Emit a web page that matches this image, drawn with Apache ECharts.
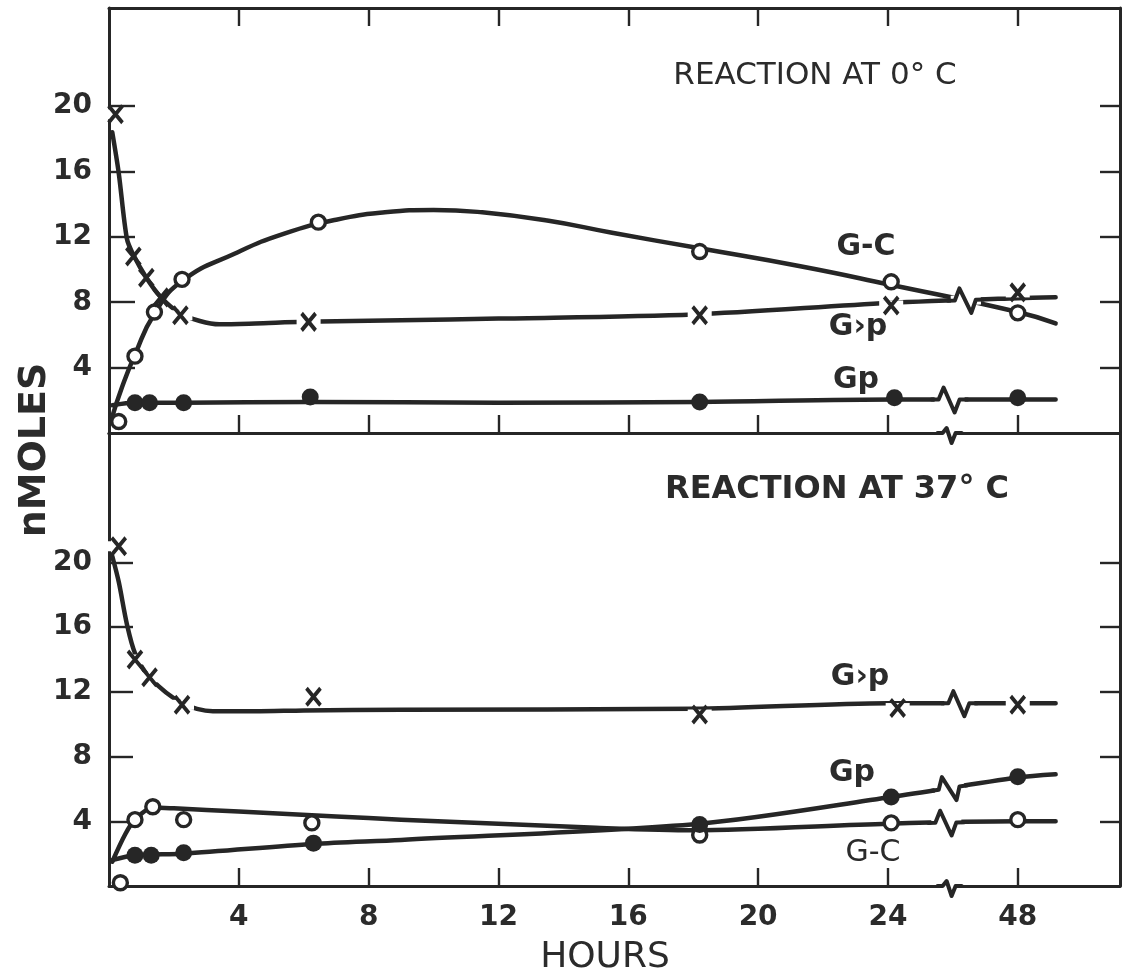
<!DOCTYPE html>
<html><head><meta charset="utf-8">
<script src="https://cdn.jsdelivr.net/npm/echarts@6/dist/echarts.min.js"></script>
<style>html,body{margin:0;padding:0;background:#fff}#c{width:1124px;height:975px}</style>
</head><body><div id="c"></div>
<script>
// ---------------- data ----------------
// x axis: hours; the axis is broken between 24 h and 48 h
const xTickPos    = [4, 8, 12, 16, 20, 24, 28];
const xTickLabels = ['4', '8', '12', '16', '20', '24', '48'];
const yTicks      = [4, 8, 12, 16, 20];

// ---- Reaction at 0 °C : measured points ----
const c0_Gcyc_t = [0.2, 0.75, 1.15, 1.6, 2.2, 6.15, 18.2, 24.1, 48];
const c0_Gcyc_v = [19.5, 10.8, 9.5, 8.3, 7.2, 6.8, 7.2, 7.8, 8.6];
const c0_GC_t   = [0.3, 0.8, 1.4, 2.25, 6.45, 18.2, 24.1, 48];
const c0_GC_v   = [0.7, 4.7, 7.4, 9.4, 12.9, 11.1, 9.25, 7.35];
const c0_Gp_t   = [0.8, 1.25, 2.3, 6.2, 18.2, 24.2, 48];
const c0_Gp_v   = [1.85, 1.85, 1.85, 2.2, 1.9, 2.15, 2.15];
// ---- Reaction at 0 °C : drawn curves ----
const c0_Gcyc_fit_t = [0.1, 0.3, 0.55, 0.75, 1.15, 1.6, 2.2, 2.8, 3.4, 4.5, 6.0, 9, 12, 18, 24, 48, 55];
const c0_Gcyc_fit_v = [18.4, 15.9, 11.9, 10.9, 9.5, 8.3, 7.3, 6.85, 6.65, 6.7, 6.8, 6.9, 7.0, 7.25, 7.95, 8.25, 8.3];
const c0_GC_fit_t   = [0.1, 0.4, 0.8, 1.4, 2.25, 3.9, 5.4, 7.0, 8.5, 10.0, 11.5, 13.5, 15.5, 18.2, 21.3, 24, 48, 55];
const c0_GC_fit_v   = [1.0, 2.8, 4.8, 7.3, 9.3, 11.0, 12.2, 13.05, 13.5, 13.65, 13.5, 13.0, 12.25, 11.3, 10.2, 9.1, 7.4, 6.7];
const c0_Gp_fit_t   = [0.1, 0.8, 2.3, 6.2, 12, 18.2, 24.2, 48, 55];
const c0_Gp_fit_v   = [1.7, 1.85, 1.85, 1.9, 1.85, 1.9, 2.05, 2.05, 2.05];

// ---- Reaction at 37 °C : measured points ----
const c37_Gcyc_t = [0.3, 0.8, 1.25, 2.25, 6.3, 18.2, 24.3, 48];
const c37_Gcyc_v = [21.0, 14.0, 12.9, 11.2, 11.7, 10.6, 11.0, 11.2];
const c37_GC_t   = [0.35, 0.8, 1.35, 2.3, 6.25, 18.2, 24.1, 48];
const c37_GC_v   = [0.2, 4.1, 4.9, 4.1, 3.9, 3.15, 3.9, 4.1];
const c37_Gp_t   = [0.8, 1.3, 2.3, 6.3, 18.2, 24.1, 48];
const c37_Gp_v   = [1.9, 1.9, 2.05, 2.65, 3.8, 5.5, 6.75];
// ---- Reaction at 37 °C : drawn curves ----
const c37_Gcyc_fit_t = [0.1, 0.3, 0.55, 0.8, 1.25, 2.25, 3.2, 4.5, 6.0, 9, 18, 24, 48, 55];
const c37_Gcyc_fit_v = [20.4, 18.8, 16.2, 14.4, 12.9, 11.3, 10.8, 10.8, 10.85, 10.9, 10.95, 11.3, 11.3, 11.3];
const c37_GC_fit_t   = [0.1, 0.5, 0.8, 1.35, 2.0, 4, 7, 9, 12, 15, 18, 24, 48, 55];
const c37_GC_fit_v   = [1.5, 3.2, 4.1, 4.85, 4.8, 4.6, 4.3, 4.1, 3.85, 3.6, 3.45, 3.85, 4.0, 4.0];
const c37_Gp_fit_t   = [0.1, 0.8, 2.3, 6.3, 9, 18.2, 24.1, 48, 55];
const c37_Gp_fit_v   = [1.6, 1.9, 2.0, 2.6, 2.85, 3.85, 5.5, 6.7, 6.9];

// ---------------- helpers / styles ----------------
const INK = '#262626';
const TXT = '#2b2b2b';
const FONT = '"DejaVu Sans", "Liberation Sans", sans-serif';
const XMAX = 31.15;
const BREAK_POS = 25.9;               // axis position of the scale break
function pos(h) { return h <= 24.5 ? h : 28 + (h - 48) / 6; }   // broken axis mapping
function pts(ts, vs) { return ts.map((t, i) => [pos(t), vs[i]]); }
function interp(p, x) {
  for (let i = 1; i < p.length; i++) {
    if (x <= p[i][0]) { const a = p[i - 1], b = p[i]; return a[1] + (b[1] - a[1]) * (x - a[0]) / (b[0] - a[0]); }
  }
  return p[p.length - 1][1];
}
function slope(p, x) { return (interp(p, x + 0.3) - interp(p, x - 0.3)) / 0.6; }

const fits = {
  c0_Gcyc: pts(c0_Gcyc_fit_t, c0_Gcyc_fit_v), c0_GC: pts(c0_GC_fit_t, c0_GC_fit_v), c0_Gp: pts(c0_Gp_fit_t, c0_Gp_fit_v),
  c37_Gcyc: pts(c37_Gcyc_fit_t, c37_Gcyc_fit_v), c37_GC: pts(c37_GC_fit_t, c37_GC_fit_v), c37_Gp: pts(c37_Gp_fit_t, c37_Gp_fit_v)
};

function lineSeries(g, data, sm) {
  return { type: 'line', xAxisIndex: g * 2, yAxisIndex: g * 2, data: data, smooth: sm,
    symbol: 'none', showSymbol: false, lineStyle: { color: INK, width: 4.5, cap: 'round', join: 'round', opacity: 1 },
    z: 2, silent: true, animation: false };
}
const X_PATH = 'path://M0,0L10,13M10,0L0,13';
function crossSeries(g, data) {
  return { type: 'scatter', xAxisIndex: g * 2, yAxisIndex: g * 2, data: data, symbol: X_PATH, symbolSize: [14, 17],
    itemStyle: { color: 'rgba(0,0,0,0)', borderColor: INK, borderWidth: 4, opacity: 1 }, z: 5, silent: true, animation: false };
}
function haloSeries(g, data) {
  return { type: 'scatter', xAxisIndex: g * 2, yAxisIndex: g * 2, data: data, symbol: 'rect', symbolSize: [24, 10],
    itemStyle: { color: '#ffffff', opacity: 1 }, z: 3, silent: true, animation: false };
}
function openSeries(g, data) {
  return { type: 'scatter', xAxisIndex: g * 2, yAxisIndex: g * 2, data: data, symbol: 'circle', symbolSize: 14,
    itemStyle: { color: '#ffffff', borderColor: INK, borderWidth: 3.4, opacity: 1 }, z: 4, silent: true, animation: false };
}
function filledSeries(g, data) {
  return { type: 'scatter', xAxisIndex: g * 2, yAxisIndex: g * 2, data: data, symbol: 'circle', symbolSize: 17,
    itemStyle: { color: INK, opacity: 1 }, z: 4, silent: true, animation: false };
}
const LINE_ZIG = [[-18, 0], [-11, 0], [-6, -12], [5, 13], [10, 0], [18, 0]];
const AXIS_ZIG = [[-12, 0], [-7, 0], [-3, -5], [2, 10], [6, 0], [12, 0]];
function zigSeries(g, items, shape, halfW) {
  return { type: 'custom', xAxisIndex: g * 2, yAxisIndex: g * 2, data: items, z: 7, silent: true, animation: false, clip: false,
    renderItem: function (params, api) {
      const x = api.value(0), y = api.value(1), s = api.value(2);
      const c = api.coord([x, y]);
      const a = api.coord([x - 0.5, y - 0.5 * s]), b = api.coord([x + 0.5, y + 0.5 * s]);
      const rot = -Math.atan2(b[1] - a[1], b[0] - a[0]);
      return { type: 'group', x: c[0], y: c[1], rotation: rot, children: [
        { type: 'rect', shape: { x: -halfW, y: -5, width: 2 * halfW, height: 10 }, style: { fill: '#ffffff' } },
        { type: 'polyline', shape: { points: shape }, style: { stroke: INK, lineWidth: 4, fill: null, lineJoin: 'round', lineCap: 'round' } }
      ] };
    } };
}
function zigAt(fit, x) { return [x, interp(fit, x), slope(fit, x)]; }

const labelFmt = v => { const i = xTickPos.indexOf(v); return i >= 0 ? xTickLabels[i] : ''; };
function xAxisCfg(g, position, showLabels, showTicks) {
  return { type: 'value', gridIndex: g, position: position, min: 0, max: XMAX,
    axisLine: { show: true, onZero: false, lineStyle: { color: INK, width: 3 } },
    axisTick: { show: showTicks, inside: true, length: 18, customValues: xTickPos, lineStyle: { color: INK, width: 2.4 } },
    axisLabel: { show: showLabels, customValues: xTickPos, formatter: labelFmt, color: TXT, fontSize: 28, fontWeight: 'bold', fontFamily: FONT, margin: 18 },
    splitLine: { show: false } };
}
function yAxisCfg(g, position, max, showLabels, tickLen) {
  return { type: 'value', gridIndex: g, position: position, min: 0, max: max,
    axisLine: { show: true, onZero: false, lineStyle: { color: INK, width: 3 } },
    axisTick: { show: true, inside: true, length: tickLen, customValues: yTicks, lineStyle: { color: INK, width: 2.4 } },
    axisLabel: { show: showLabels, customValues: yTicks, color: TXT, fontSize: 28, fontWeight: 'bold', fontFamily: FONT, margin: 17 },
    splitLine: { show: false } };
}
function txt(text, x, y, size, weight, rotation) {
  return { type: 'text', x: x, y: y, rotation: rotation || 0, z: 10, silent: true,
    style: { text: text, fill: TXT, fontSize: size, fontWeight: weight || 'normal', fontFamily: FONT, align: 'center', verticalAlign: 'middle' } };
}

const chart = echarts.init(document.getElementById('c'), null, { renderer: 'canvas', width: 1124, height: 975 });

const haloFilter0 = pts(c0_Gcyc_t, c0_Gcyc_v).filter((p, i) => c0_Gcyc_t[i] >= 2 || i === 0);

chart.setOption({
  backgroundColor: '#ffffff',
  animation: false,
  grid: [
    { left: 109, top: 8, width: 1011, height: 425 },
    { left: 109, top: 433, width: 1011, height: 453 }
  ],
  xAxis: [
    xAxisCfg(0, 'bottom', false, true),
    xAxisCfg(0, 'top', false, true),
    xAxisCfg(1, 'bottom', true, true),
    xAxisCfg(1, 'top', false, false)
  ],
  yAxis: [
    yAxisCfg(0, 'left', 26, true, 26),
    yAxisCfg(0, 'right', 26, false, 20),
    yAxisCfg(1, 'left', 28, true, 24),
    yAxisCfg(1, 'right', 28, false, 20)
  ],
  series: [
    // 0 °C
    lineSeries(0, fits.c0_Gcyc, 0.3), lineSeries(0, fits.c0_GC, 0.5), lineSeries(0, fits.c0_Gp, 0.3),
    haloSeries(0, haloFilter0),
    crossSeries(0, pts(c0_Gcyc_t, c0_Gcyc_v)),
    openSeries(0, pts(c0_GC_t, c0_GC_v)),
    filledSeries(0, pts(c0_Gp_t, c0_Gp_v)),
    zigSeries(0, [zigAt(fits.c0_Gcyc, 26.4), zigAt(fits.c0_Gp, 25.9)], LINE_ZIG, 15),
    zigSeries(0, [[BREAK_POS, 0, 0]], AXIS_ZIG, 10),
    // 37 °C
    lineSeries(1, fits.c37_Gcyc, 0.3), lineSeries(1, fits.c37_GC, 0.3), lineSeries(1, fits.c37_Gp, 0.3),
    haloSeries(1, pts(c37_Gcyc_t, c37_Gcyc_v)),
    crossSeries(1, pts(c37_Gcyc_t, c37_Gcyc_v)),
    openSeries(1, pts(c37_GC_t, c37_GC_v)),
    filledSeries(1, pts(c37_Gp_t, c37_Gp_v)),
    zigSeries(1, [zigAt(fits.c37_Gcyc, 26.2), zigAt(fits.c37_Gp, 25.9), zigAt(fits.c37_GC, 25.8)], LINE_ZIG, 15),
    zigSeries(1, [[BREAK_POS, 0, 0]], AXIS_ZIG, 10)
  ],
  graphic: [
    txt('REACTION AT 0° C', 815, 76, 31),
    txt('REACTION AT 37° C', 837, 490, 32, 'bold'),
    txt('G-C', 866, 247, 30, 'bold'),
    txt('G›p', 858, 327, 30, 'bold'),
    txt('Gp', 856, 380, 30, 'bold'),
    txt('G›p', 860, 677, 30, 'bold'),
    txt('Gp', 852, 773, 30, 'bold'),
    txt('G-C', 873, 853, 30),
    txt('HOURS', 605, 958, 36),
    txt('nMOLES', 35, 450, 38, 'bold', Math.PI / 2)
  ]
});
</script>
</body></html>
